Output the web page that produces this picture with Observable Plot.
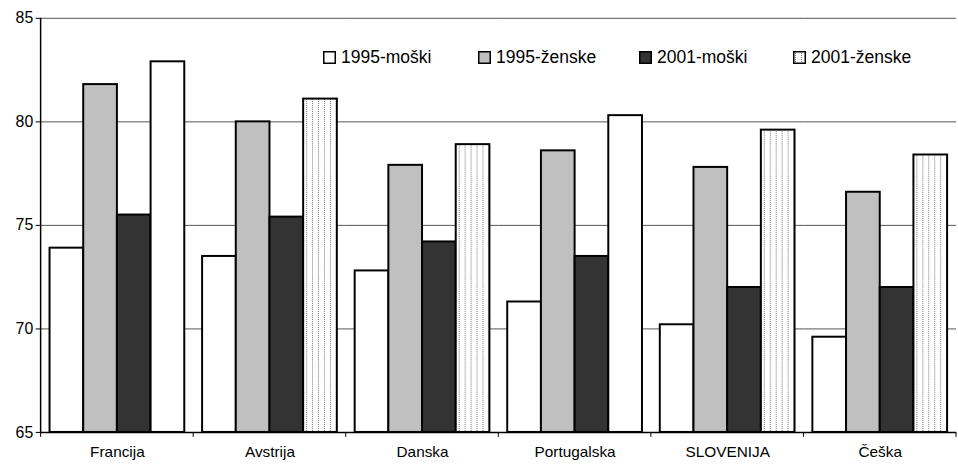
<!DOCTYPE html>
<html><head><meta charset="utf-8">
<script src="https://cdn.jsdelivr.net/npm/d3@7"></script>
<script src="https://cdn.jsdelivr.net/npm/@observablehq/plot@0.6"></script>
<style>
body{margin:0;overflow:hidden;background:#fff;font-family:"Liberation Sans",Arial,sans-serif}
#wrap{position:relative;width:958px;height:465px;overflow:hidden}
.item{position:absolute;top:50px;display:flex;align-items:center;font-size:17.5px;line-height:15px;color:#000;white-space:nowrap}
.item svg{margin-right:5px;display:block}
</style></head>
<body><div id="wrap"><div id="legend"></div></div>
<script>
const countries = ["Francija","Avstrija","Danska","Portugalska","SLOVENIJA","Češka"];
const seriesNames = ["1995-moški","1995-ženske","2001-moški","2001-ženske"];
const m1995 = [73.9,73.5,72.8,71.3,70.2,69.6];
const z1995 = [81.8,80.0,77.9,78.6,77.8,76.6];
const m2001 = [75.5,75.4,74.2,73.5,72.0,72.0];
const z2001 = [82.9,81.1,78.9,80.3,79.6,78.4];
const yTicks = [65,70,75,80,85];

const seriesValues = [m1995, z1995, m2001, z2001];
const data = [];
countries.forEach((c, i) => seriesNames.forEach((s, j) => data.push({country: c, series: s, value: seriesValues[j][i]})));

// style choices (Francija and Portugalska 2001-ženske drawn plain white in the original)
const plainWhite = new Set(["Francija", "Portugalska"]);
const fillKey = d => (d.series === "2001-ženske" && plainWhite.has(d.country)) ? "plain" : d.series;

const chart = Plot.plot({
  width: 967, height: 465,
  marginLeft: 38, marginRight: 0, marginTop: 18, marginBottom: 29,
  style: {fontFamily: '"Liberation Sans", Arial, sans-serif', fontSize: "16px", color: "#000", background: "transparent"},
  fx: {domain: countries, padding: 0, label: null},
  x: {domain: seriesNames, paddingInner: 0, paddingOuter: 0.233, axis: null},
  y: {domain: [65, 85], label: null},
  color: {domain: [...seriesNames, "plain"], range: ["#ffffff", "#c0c0c0", "#333333", "url(#dots)", "#ffffff"]},
  marks: [
    Plot.ruleY(yTicks.filter(v => v > 65), {stroke: "#555", strokeWidth: 1}),
    Plot.barY(data, {fx: "country", x: "series", y1: 65, y2: "value", fill: fillKey, stroke: "#000", strokeWidth: 2}),
    Plot.ruleY([65], {stroke: "#000", strokeWidth: 1.5}),
    Plot.axisY({ticks: yTicks, tickSize: 5, tickPadding: 3, fontSize: 16, label: null, tickFormat: d => d}),
    Plot.axisFx({anchor: "bottom", tickSize: 0, tickPadding: 14, fontSize: 15.5, label: null})
  ]
});

const svg = d3.select(chart);
svg.insert("defs", ":first-child").html(
  '<pattern id="dots" width="6" height="2" patternUnits="userSpaceOnUse">' +
  '<rect width="6" height="2" fill="#fff"/><rect x="2" y="0" width="1" height="1" fill="#777"/></pattern>');

const fx = chart.scale("fx"), y = chart.scale("y");
const x0 = fx.apply(countries[0]);
const bounds = countries.map(c => fx.apply(c)).concat([fx.apply(countries[countries.length - 1]) + fx.bandwidth]);
const g = svg.append("g").attr("stroke", "#000");
g.append("line").attr("x1", x0).attr("x2", x0).attr("y1", y.apply(85)).attr("y2", y.apply(65)).attr("stroke-width", 1.5);
g.selectAll("line.tk").data(bounds).join("line").attr("class", "tk")
  .attr("x1", d => d).attr("x2", d => d).attr("y1", y.apply(65)).attr("y2", y.apply(65) + 5);

document.getElementById("wrap").appendChild(chart);

const legendLeft = [323, 478, 639, 793];
const legendFill = ["#ffffff", "#c0c0c0", "#333333", "url(#dots)"];
const leg = document.getElementById("legend");
seriesNames.forEach((s, i) => {
  const it = document.createElement("div");
  it.className = "item";
  it.style.left = legendLeft[i] + "px";
  it.innerHTML = `<svg width="13" height="13"><rect x="0.75" y="0.75" width="11.5" height="11.5" fill="${legendFill[i]}" stroke="#000" stroke-width="1.5"/></svg><span>${s}</span>`;
  leg.appendChild(it);
});
leg.style.position = "absolute"; leg.style.inset = "0"; leg.style.zIndex = "2";
</script>
</body></html>
